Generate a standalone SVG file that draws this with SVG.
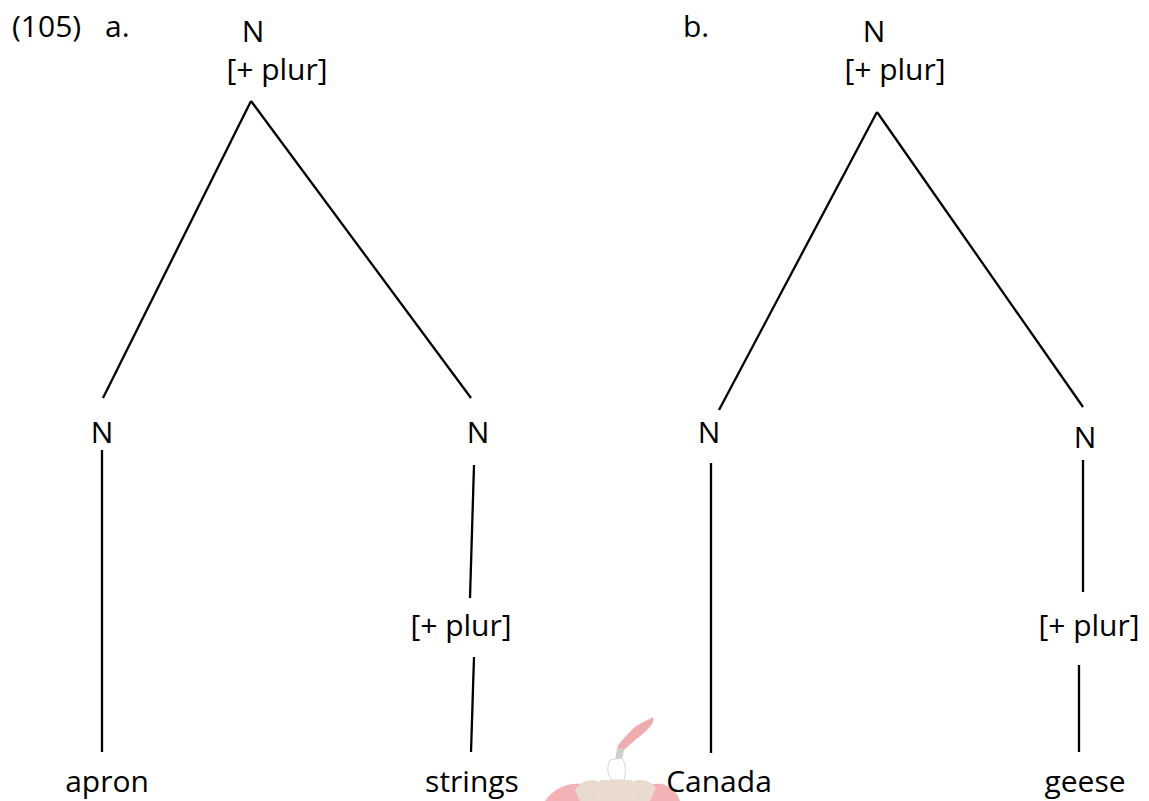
<svg xmlns="http://www.w3.org/2000/svg" width="1149" height="801" viewBox="0 0 1149 801">
<style>
  .t { font-family: "Open Sans", "Noto Sans", "DejaVu Sans", sans-serif; font-size: 30px; fill: #000; }
  .m { text-anchor: middle; }
  .e { stroke: #000; stroke-width: 2.3; fill: none; stroke-linecap: butt; }
</style>
<rect width="1149" height="801" fill="#fff"/>
<g id="watermark" opacity="0.4">
  <path d="M653 717 C645 722 636 724 630 732 C624 738 620 742 617 748 L624 750 C630 744 638 738 645 732 C650 727 655 722 653 717 Z" fill="#d9323c"/>
  <path d="M617 748 L624 750 L620 770 L614 768 Z" fill="#888"/>
  <path d="M610 760 C606 768 608 776 612 780 L624 780 C626 772 626 764 622 758 Z" fill="#fff" stroke="#999" stroke-width="1"/>
  <path d="M600 780 L632 780 L634 801 L598 801 Z" fill="#c9a98a"/>
  <path d="M545 801 C552 790 566 782 582 784 C590 786 596 792 598 801 Z" fill="#e0404a"/>
  <path d="M634 801 C638 790 648 782 662 784 C672 787 678 794 680 801 Z" fill="#e0404a"/>
  <path d="M575 790 C582 780 592 778 600 782 L598 801 L580 801 Z" fill="#c9a98a"/>
  <path d="M632 782 C640 778 650 780 656 788 L650 801 L634 801 Z" fill="#c9a98a"/>
</g>
<g id="labels">
  <text class="t" x="12" y="37">(105)</text>
  <text class="t" x="105" y="37">a.</text>
  <text class="t" x="683" y="37">b.</text>
</g>
<g id="connectors">
  <line class="e" x1="251" y1="101" x2="103" y2="398"/>
  <line class="e" x1="251" y1="101" x2="471" y2="398"/>
  <line class="e" x1="102" y1="450" x2="102" y2="752"/>
  <line class="e" x1="474" y1="465" x2="470" y2="598"/>
  <line class="e" x1="474" y1="657" x2="471" y2="752"/>
  <line class="e" x1="877" y1="112" x2="719" y2="410"/>
  <line class="e" x1="877" y1="112" x2="1083" y2="407"/>
  <line class="e" x1="711" y1="463" x2="711" y2="753"/>
  <line class="e" x1="1083" y1="460" x2="1083" y2="592"/>
  <line class="e" x1="1079" y1="665" x2="1079" y2="752"/>
</g>
<g id="node-a-root">
  <text class="t m" x="253" y="42">N</text>
  <text class="t m" x="277" y="80">[+ plur]</text>
</g>
<g id="node-a-n1"><text class="t m" x="102" y="443">N</text></g>
<g id="node-a-n2"><text class="t m" x="478" y="443">N</text></g>
<g id="node-a-plur"><text class="t m" x="461" y="636">[+ plur]</text></g>
<g id="node-a-apron"><text class="t m" x="107" y="792">apron</text></g>
<g id="node-a-strings"><text class="t m" x="472" y="792">strings</text></g>
<g id="node-b-root">
  <text class="t m" x="874" y="42">N</text>
  <text class="t m" x="895" y="80">[+ plur]</text>
</g>
<g id="node-b-n1"><text class="t m" x="709" y="443">N</text></g>
<g id="node-b-n2"><text class="t m" x="1085" y="448">N</text></g>
<g id="node-b-plur"><text class="t m" x="1089" y="636">[+ plur]</text></g>
<g id="node-b-canada"><text class="t m" x="719" y="792">Canada</text></g>
<g id="node-b-geese"><text class="t m" x="1085" y="792">geese</text></g>
</svg>
